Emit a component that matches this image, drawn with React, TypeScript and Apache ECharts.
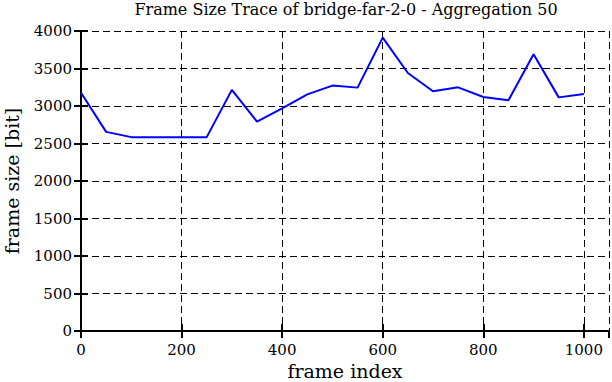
import React, { useEffect, useRef } from "react";
import * as echarts from "echarts";

const frameIndex = [0, 50, 100, 150, 200, 250, 300, 350, 400, 450, 500, 550, 600, 650, 700, 750, 800, 850, 900, 950, 1000];
const frameSize = [3177, 2655, 2585, 2585, 2585, 2585, 3215, 2791, 2969, 3155, 3272, 3245, 3911, 3440, 3196, 3249, 3120, 3076, 3689, 3115, 3160];
const xTicks = [0, 200, 400, 600, 800, 1000];
const yTicks = [0, 500, 1000, 1500, 2000, 2500, 3000, 3500, 4000];

const FONT = "DejaVu Serif";

export default function App() {
  const ref = useRef<HTMLDivElement>(null);
  useEffect(() => {
    const chart = echarts.init(ref.current!, null, { renderer: "svg" });
    const axisLine = { show: true, lineStyle: { color: "#000", width: 2 } };
    const tick = { show: true, inside: true, length: 7, lineStyle: { color: "#000", width: 2 } };
    const split = { show: true, lineStyle: { color: "#000", width: 1, type: [7, 4] as any } };
    chart.setOption({
      animation: false,
      backgroundColor: "#fff",
      title: {
        text: "Frame Size Trace of bridge-far-2-0 - Aggregation 50",
        left: 346,
        top: 1,
        padding: 0,
        textAlign: "center",
        textStyle: { fontFamily: FONT, fontSize: 16, fontWeight: "normal", color: "#000" },
      },
      grid: { left: 81, right: 3, top: 31, bottom: 51, containLabel: false, outerBoundsMode: "none" },
      xAxis: [
        {
          type: "value",
          position: "bottom",
          min: 0,
          max: 1050,
          interval: xTicks[1] - xTicks[0],
          axisLine,
          axisTick: tick,
          splitLine: split,
          axisLabel: {
            showMaxLabel: false,
            fontFamily: FONT,
            fontSize: 15,
            color: "#000",
            margin: 11,
            formatter: (v: number) => (xTicks.includes(v) ? String(v) : ""),
          },
          name: "frame index",
          nameLocation: "middle",
          nameGap: 30,
          nameTextStyle: { fontFamily: FONT, fontSize: 19, color: "#000" },
        },
        {
          type: "value",
          position: "top",
          min: 0,
          max: 1050,
          interval: xTicks[1] - xTicks[0],
          axisLine,
          axisTick: tick,
          splitLine: { show: false },
          axisLabel: { show: false },
        },
      ],
      yAxis: [
        {
          type: "value",
          position: "left",
          min: yTicks[0],
          max: yTicks[yTicks.length - 1],
          interval: yTicks[1] - yTicks[0],
          axisLine,
          axisTick: tick,
          splitLine: split,
          axisLabel: {
            fontFamily: FONT,
            fontSize: 15,
            color: "#000",
            margin: 9,
            formatter: (v: number) => String(v),
          },
          name: "frame size [bit]",
          nameLocation: "middle",
          nameGap: 60,
          nameTextStyle: { fontFamily: FONT, fontSize: 19, color: "#000" },
        },
        {
          type: "value",
          position: "right",
          min: yTicks[0],
          max: yTicks[yTicks.length - 1],
          interval: yTicks[1] - yTicks[0],
          axisLine,
          axisTick: tick,
          splitLine: { show: false },
          axisLabel: { show: false },
        },
      ],
      series: [
        {
          type: "line",
          xAxisIndex: 0,
          yAxisIndex: 0,
          data: frameIndex.map((x, i) => [x, frameSize[i]]),
          showSymbol: false,
          symbol: "none",
          lineStyle: { color: "#0000ff", width: 2 },
          z: 5,
        },
      ],
    });
    return () => chart.dispose();
  }, []);
  return <div ref={ref} style={{ width: 612, height: 382, position: "absolute", left: 0, top: 0 }} />;
}
